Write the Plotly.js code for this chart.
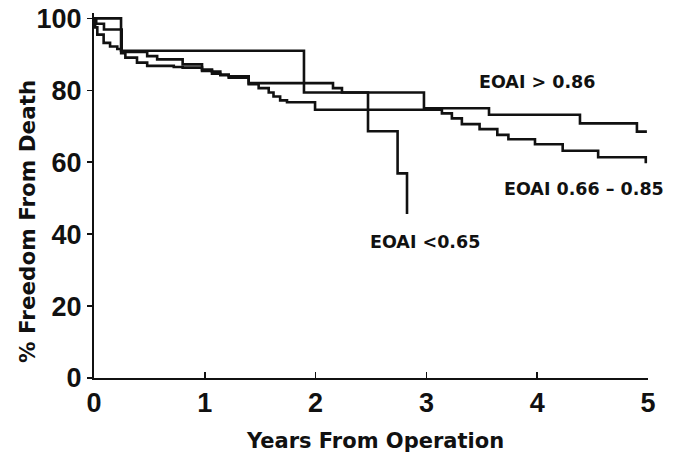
<!DOCTYPE html>
<html>
<head>
<meta charset="utf-8">
<script src="https://cdn.plot.ly/plotly-3.0.1.min.js"></script>
<style>
  html, body { margin: 0; padding: 0; background: #fff; }
  #chart { width: 681px; height: 463px; }
</style>
</head>
<body>
<div id="chart"></div>
<script>
// Kaplan-Meier style step curves (years, % freedom from death)
const hiTimes   = [0, 0.02, 0.09, 0.25, 0.48, 0.57, 0.80, 0.975, 1.065, 1.14, 1.216, 1.396, 2.157, 2.238, 2.978, 3.565, 4.386, 4.90, 4.99];
const hiValues  = [100, 98.5, 96.9, 90.7, 89.5, 88.6, 87.2, 85.8, 85.2, 84.4, 83.9, 82.0, 80.6, 79.4, 75.0, 73.2, 70.8, 68.5, 68.5];

const midTimes  = [0, 0.01, 0.03, 0.087, 0.145, 0.21, 0.245, 0.283, 0.388, 0.48, 0.72, 0.80, 0.975, 1.065, 1.14, 1.216, 1.396, 1.486, 1.577, 1.62, 1.68, 1.742, 1.995, 3.14, 3.23, 3.32, 3.48, 3.64, 3.74, 3.98, 4.23, 4.55, 4.98];
const midValues = [100, 97.5, 95.5, 93.2, 92.2, 91.5, 90.3, 89.1, 87.7, 86.8, 86.5, 86.3, 85.4, 84.6, 84.2, 83.5, 81.7, 80.6, 79.4, 78.3, 77.2, 76.7, 74.6, 73.6, 72.2, 70.6, 69.2, 67.6, 66.4, 65.0, 63.2, 61.4, 59.7];

const loTimes   = [0, 0.244, 1.895, 2.473, 2.74, 2.825];
const loValues  = [100, 91.0, 79.4, 68.6, 56.9, 45.6];

const seriesNames = ["EOAI > 0.86", "EOAI 0.66 – 0.85", "EOAI <0.65"];
const labelX = [3.46, 3.68, 2.47];
const labelY = [82.2, 52.5, 37.8];

const xTicks = [0, 1, 2, 3, 4, 5];
const yTicks = [0, 20, 40, 60, 80, 100];
const xTitle = "Years From Operation";
const yTitle = "% Freedom From Death";

const lineStyle = {color: "#111", width: 2.6, shape: "hv"};
const traces = [
  {x: hiTimes, y: hiValues, name: seriesNames[0]},
  {x: midTimes, y: midValues, name: seriesNames[1]},
  {x: loTimes, y: loValues, name: seriesNames[2]}
].map(t => Object.assign(t, {type: "scatter", mode: "lines", line: lineStyle, hoverinfo: "skip"}));

const tickFont = {family: "Liberation Sans Narrow, Liberation Sans, Arial, sans-serif", size: 27, color: "#111", weight: "bold"};
const labFont = {family: "DejaVu Sans, sans-serif", size: 17.5, color: "#111", weight: "bold"};
const titleFont = {family: "DejaVu Sans, sans-serif", size: 21, color: "#111", weight: "bold"};

const annotations = seriesNames.map((n, i) => ({
  x: labelX[i], y: labelY[i], xref: "x", yref: "y", text: n,
  showarrow: false, xanchor: "left", yanchor: "middle", font: labFont
}));
annotations.push({
  x: 0.507, y: -0.173, xref: "paper", yref: "paper", text: xTitle,
  showarrow: false, xanchor: "center", yanchor: "middle", font: titleFont
});
annotations.push({
  x: -0.121, y: 0.430, xref: "paper", yref: "paper", text: yTitle, textangle: -90,
  showarrow: false, xanchor: "center", yanchor: "middle", font: Object.assign({}, titleFont, {size: 21.5})
});

const layout = {
  width: 681, height: 463,
  margin: {l: 94, r: 33, t: 13, b: 85},
  paper_bgcolor: "#fff", plot_bgcolor: "#fff",
  showlegend: false,
  xaxis: {
    range: [0, 5], tickvals: xTicks, ticktext: xTicks.map(String),
    showline: true, linecolor: "#111", linewidth: 2,
    ticks: "inside", ticklen: 6, tickwidth: 1.5, tickcolor: "#111",
    showgrid: false, zeroline: false, tickfont: tickFont
  },
  yaxis: {
    range: [0, 101.5], tickvals: yTicks, ticktext: yTicks.map(String),
    showline: true, linecolor: "#111", linewidth: 2,
    ticks: "outside", ticklen: 5, tickwidth: 1.5, tickcolor: "#111",
    showgrid: false, zeroline: false, tickfont: tickFont
  },
  annotations: annotations
};

Plotly.newPlot("chart", traces, layout, {staticPlot: true, displayModeBar: false});
</script>
</body>
</html>
